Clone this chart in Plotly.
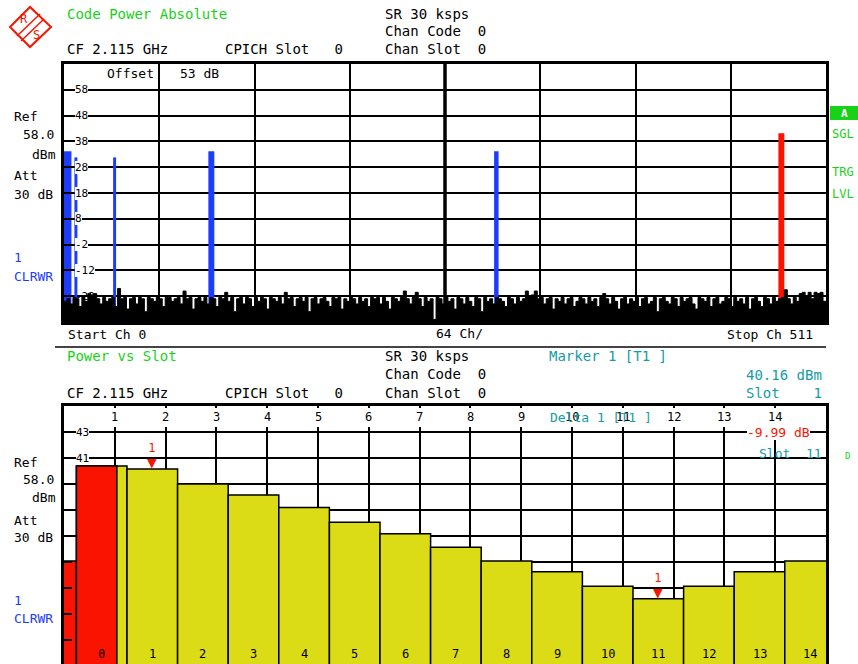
import plotly.graph_objects as go

W, H = 858, 664
FONT = "DejaVu Sans Mono"
GREEN = "#18d218"
TEAL = "#139ca4"
BLUE = "#1e3cff"
RED = "#fa1400"
YELLOW = "#dcdc16"

# ---------------- Code Power Absolute (top) ----------------
CHANNEL_COUNT = 512
CHANNELS_PER_DIV = 64
NOISE_STEP = 2
NOISE_DB = [
    -24, -23, -25, -22.5, -23, -26, -22, -24, -21, -21.5, -21, -23, -25, -22.5, -24, -23,
    -22.5, -26, -19, -23, -22.5, -27, -23, -22.5, -25, -22.5, -23, -28, -22.5, -23, -24, -22.5,
    -23, -26, -22.5, -22.5, -24, -23, -22.5, -25, -20, -23, -22.5, -27, -23, -22.5, -24, -22.5,
    -25, -22.5, -23, -26, -22.5, -23, -20.5, -24, -22.5, -28, -23, -22.5, -25, -22.5, -23, -26,
    -22.5, -24, -22.5, -23, -27, -22.5, -23, -24, -22.5, -25, -20.5, -23, -22.5, -26, -23, -22.5,
    -24, -22.5, -28, -23, -22.5, -25, -23, -22.5, -24, -26, -22.5, -23, -22.5, -27, -23, -24,
    -22.5, -23, -25, -22.5, -24, -23, -26, -22.5, -23, -22.5, -25, -22.5, -24, -27, -22.5, -23,
    -24, -22.5, -20, -23, -25, -22.5, -20.5, -23, -26, -22.5, -24, -23, -31, -22.5, -23, -25,
    -22.5, -24, -23, -27, -22.5, -23, -25, -22.5, -24, -26, -22.5, -23, -28, -22.5, -24, -23,
    -25, -22.5, -23, -24, -26, -22.5, -23, -25, -22.5, -24, -23, -20, -22, -21.5, -20, -23,
    -22.5, -25, -23, -22.5, -27, -23, -24, -22.5, -25, -23, -22.5, -26, -24, -22.5, -23, -25,
    -22.5, -24, -23, -26, -22.5, -21, -23, -25, -22.5, -24, -27, -23, -22.5, -25, -23, -24,
    -22.5, -26, -23, -22.5, -25, -24, -22.5, -28, -23, -22.5, -24, -25, -22.5, -23, -26, -22.5,
    -24, -23, -22.5, -25, -27, -22.5, -23, -24, -22.5, -26, -23, -22.5, -25, -24, -22.5, -23,
    -26, -22.5, -24, -23, -25, -22.5, -27, -23, -22.5, -24, -26, -22.5, -23, -25, -22.5, -24,
    -23, -22.5, -19.5, -23, -25, -22.5, -24, -21, -20.5, -22, -20.5, -23, -20.5, -21, -20.5, -24,
]
CODE_START = [0, 7, 33, 97, 289]
CODE_WIDTH = [5, 2, 2, 4, 3]
CODE_POWER = [34.2, 31.8, 31.8, 34.2, 34.2]
SEL_CODE_START = [480]
SEL_CODE_WIDTH = [4]
SEL_CODE_POWER = [41.2]
TOP_Y_RANGE = [-32, 68]
TOP_Y_TICKS = [58, 48, 38, 28, 18, 8, -2, -12, -22]

# ---------------- Power vs Slot (bottom) ----------------
SLOTS = list(range(15))
SLOT_POWER = [40.38, 40.16, 39.0, 38.15, 37.2, 36.05, 35.18, 34.13, 33.08,
              32.25, 31.13, 30.17, 31.13, 32.25, 33.08]
RED_SLOTS = [-1, 0]
RED_SLOT_POWER = [33.08, 40.38]
RED_SLOT_WIDTH = [1, 0.8]
MARKER_SLOTS = [1, 11]
MARKER_POWER = [40.16, 30.17]
SLOT_GRID_TICKS = list(range(1, 15))
BOT_Y_LABELS = [43, 41]
BOT_Y_TOP = 45
BOT_Y_DTICK = 2


def px(x):
    return x / W


def py(y):
    return 1 - y / H


fig = go.Figure()

# top: noise floor (filled step) above a baseline
base = TOP_Y_RANGE[0]
fig.add_trace(go.Scatter(x=[0, CHANNEL_COUNT], y=[base, base], mode="lines",
                         line=dict(width=0, color="black"), hoverinfo="skip",
                         xaxis="x", yaxis="y"))
nx = [i * NOISE_STEP for i in range(len(NOISE_DB))] + [CHANNEL_COUNT]
ny = NOISE_DB + [NOISE_DB[-1]]
fig.add_trace(go.Scatter(x=nx, y=ny, mode="lines", line=dict(color="black", width=1, shape="hv"),
                         fill="tonexty", fillcolor="black", hoverinfo="skip",
                         xaxis="x", yaxis="y"))
fig.add_trace(go.Bar(x=CODE_START, y=[p - base for p in CODE_POWER], base=base,
                     width=CODE_WIDTH, offset=0,
                     marker=dict(color=BLUE, line=dict(width=0)), xaxis="x", yaxis="y"))
fig.add_trace(go.Bar(x=SEL_CODE_START, y=[p - base for p in SEL_CODE_POWER], base=base,
                     width=SEL_CODE_WIDTH, offset=0,
                     marker=dict(color=RED, line=dict(width=0)), xaxis="x", yaxis="y"))

# bottom: slot bars
fig.add_trace(go.Bar(x=SLOTS, y=SLOT_POWER, width=1, offset=0,
                     marker=dict(color=YELLOW, line=dict(color="black", width=1.5)),
                     xaxis="x2", yaxis="y2"))
fig.add_trace(go.Bar(x=RED_SLOTS, y=RED_SLOT_POWER, width=RED_SLOT_WIDTH, offset=0,
                     marker=dict(color=RED, line=dict(color="black", width=1.5)),
                     xaxis="x2", yaxis="y2"))

slot_px = 50.6
slot0_px = 76.4
x2_range = [-(slot0_px - 64) / slot_px, (826 - slot0_px) / slot_px]
bot_range = [BOT_Y_TOP - (H - 406) / 13.0, BOT_Y_TOP]

grid = dict(showgrid=True, gridcolor="black", gridwidth=1.7, zeroline=False,
            showticklabels=False, fixedrange=True)

fig.update_layout(
    width=W, height=H, autosize=False,
    margin=dict(l=0, r=0, t=0, b=0),
    paper_bgcolor="white", plot_bgcolor="white",
    showlegend=False, barmode="overlay",
    xaxis=dict(domain=[px(64), px(826)], range=[0, CHANNEL_COUNT], tick0=0,
               dtick=CHANNELS_PER_DIV, ticks="", showline=True, mirror=True,
               linecolor="black", linewidth=3, anchor="y", **grid),
    yaxis=dict(domain=[py(322), py(64)], range=TOP_Y_RANGE, tick0=-22, dtick=10,
               ticks="inside", ticklen=8, tickwidth=2, tickcolor="black",
               showline=True, mirror=True, linecolor="black", linewidth=3,
               anchor="x", **grid),
    xaxis2=dict(domain=[px(64), px(826)], range=x2_range, showgrid=False,
                showticklabels=False, showline=False, zeroline=False,
                anchor="y2", fixedrange=True),
    xaxis3=dict(overlaying="x2", side="top", anchor="y2", range=[0, 15], tick0=0,
                dtick=1, ticks="", showline=True, linecolor="black", linewidth=3,
                mirror=False, **grid),
    yaxis2=dict(domain=[0, py(406)], range=bot_range, tick0=25, dtick=BOT_Y_DTICK,
                ticks="inside", ticklen=8, tickwidth=2, tickcolor="black",
                showline=True, mirror=True, linecolor="black", linewidth=3,
                anchor="x2", **grid),
)

shapes = []
# thick centre line of code domain display (under the traces)
shapes.append(dict(type="line", xref="x", yref="paper", x0=CHANNEL_COUNT / 2,
                   x1=CHANNEL_COUNT / 2, y0=py(322), y1=py(64),
                   line=dict(color="black", width=3.5), layer="below"))
# separator between the two screens
shapes.append(dict(type="line", xref="paper", yref="paper", x0=px(55), x1=px(826),
                   y0=py(347), y1=py(347), line=dict(color="#444444", width=2)))
# mask for label row in the slot display
shapes.append(dict(type="rect", xref="paper", yref="paper", x0=px(66), x1=px(824),
                   y0=py(427), y1=py(408), fillcolor="white", line=dict(width=0),
                   layer="above"))
# green "A" box
shapes.append(dict(type="rect", xref="paper", yref="paper", x0=px(830), x1=px(858),
                   y0=py(120), y1=py(106), fillcolor=GREEN, line=dict(width=0)))


def pth(points):
    return "M " + " L ".join(f"{px(a):.5f},{py(b):.5f}" for a, b in points)


# R&S logo
shapes.append(dict(type="path", xref="paper", yref="paper",
                   path=pth([(10, 27), (30, 7), (51, 27), (30, 47)]) + " Z",
                   line=dict(color=RED, width=2)))
shapes.append(dict(type="path", xref="paper", yref="paper",
                   path=pth([(40, 14), (17, 36)]), line=dict(color=RED, width=1.5)))
shapes.append(dict(type="path", xref="paper", yref="paper",
                   path=pth([(44, 19), (21, 41)]), line=dict(color=RED, width=1.5)))
fig.update_layout(shapes=shapes)

anns = []


def ann(text, x, y, color="black", size=14, xanchor="left", **kw):
    d = dict(text=text, x=px(x), y=py(y), xref="paper", yref="paper",
             xanchor=xanchor, yanchor="middle", showarrow=False,
             borderpad=0, borderwidth=0,
             font=dict(family=FONT, size=size, color=color))
    d.update(kw)
    anns.append(d)


# logo letters
ann("R", 24, 19, RED, 12, "center")
ann("S", 36, 35, RED, 12, "center")

# top header
ann("Code Power Absolute", 67, 14, GREEN)
ann("SR 30 ksps", 385, 14)
ann("Chan Code  0", 385, 31)
ann("CF 2.115 GHz", 67, 49)
ann("CPICH Slot   0", 225, 49)
ann("Chan Slot  0", 385, 49)

# side labels (top screen)
for txt, x, y, c in [("Ref", 14, 117, "black"), ("58.0", 23, 134, "black"),
                     ("dBm", 32, 154, "black"), ("Att", 14, 176, "black"),
                     ("30 dB", 14, 194, "black"), ("1", 14, 258, BLUE),
                     ("CLRWR", 14, 276, BLUE)]:
    ann(txt, x, y, c, 13)
ann("<b>A</b>", 844, 113, "white", 11, "center")
ann("SGL", 832, 134, GREEN, 12)
ann("TRG", 832, 172, GREEN, 12)
ann("LVL", 832, 194, GREEN, 12)

# inside top display
ann("Offset", 107, 73, "black", 13)
ann("53 dB", 180, 73, "black", 13)
for v in TOP_Y_TICKS:
    anns.append(dict(text=str(v), x=px(75), xref="paper", y=v, yref="y",
                     xanchor="left", yanchor="middle", showarrow=False,
                     bgcolor="white" if v > TOP_Y_TICKS[-1] else None,
                     borderpad=0, borderwidth=0,
                     font=dict(family=FONT, size=11, color="black")))

ann("Start Ch 0", 68, 335, "black", 13)
ann(f"{CHANNELS_PER_DIV} Ch/", 436, 333, "black", 13)
ann(f"Stop Ch {CHANNEL_COUNT - 1}", 727, 335, "black", 13)

# bottom header
ann("Power vs Slot", 67, 356, GREEN)
ann("SR 30 ksps", 385, 356)
ann("Marker 1 [T1 ]", 549, 356, TEAL)
ann("Chan Code  0", 385, 374)
ann(f"{MARKER_POWER[0]:.2f} dBm", 822, 375, TEAL, 14, "right")
ann("CF 2.115 GHz", 67, 393)
ann("CPICH Slot   0", 225, 393)
ann("Chan Slot  0", 385, 393)
ann(f"Slot    {MARKER_SLOTS[0]}", 822, 393, TEAL, 14, "right")

# side labels (bottom screen)
for txt, x, y, c in [("Ref", 14, 462, "black"), ("58.0", 23, 479, "black"),
                     ("dBm", 32, 497, "black"), ("Att", 14, 520, "black"),
                     ("30 dB", 14, 537, "black"), ("1", 14, 600, BLUE),
                     ("CLRWR", 14, 618, BLUE)]:
    ann(txt, x, y, c, 13)
ann("D", 845, 456, GREEN, 9)

# slot grid labels (top row, inside frame)
for k in SLOT_GRID_TICKS:
    anns.append(dict(text=str(k), x=k, xref="x3", y=py(417), yref="paper",
                     xanchor="center", yanchor="middle", showarrow=False,
                     borderpad=0, borderwidth=0,
                     font=dict(family=FONT, size=12, color="black")))
# y labels of slot display
for v in BOT_Y_LABELS:
    anns.append(dict(text=str(v), x=px(76), xref="paper", y=v, yref="y2",
                     xanchor="left", yanchor="middle", showarrow=False,
                     bgcolor="white", borderpad=0, borderwidth=0,
                     font=dict(family=FONT, size=11, color="black")))
# slot numbers inside the bars
for k in SLOTS:
    anns.append(dict(text=str(k), x=k + 0.5, xref="x2", y=py(654), yref="paper",
                     xanchor="center", yanchor="middle", showarrow=False,
                     borderpad=0, borderwidth=0,
                     font=dict(family=FONT, size=12, color="black")))
# markers
for s, p in zip(MARKER_SLOTS, MARKER_POWER):
    anns.append(dict(text="1<br><span style='font-size:16px'>▼</span>", x=s + 0.5,
                     xref="x2", y=p, yref="y2", xanchor="center", yanchor="bottom",
                     showarrow=False, borderpad=0, borderwidth=0, yshift=-3,
                     font=dict(family=FONT, size=12, color=RED)))

delta = MARKER_POWER[1] - MARKER_POWER[0]
ann("Delta 1 [T1 ]", 550, 417, TEAL, 13)
anns.append(dict(text=f"{delta:.2f} dB", x=px(810), xref="paper", y=43, yref="y2",
                 xanchor="right", yanchor="middle", showarrow=False, bgcolor="white",
                 borderpad=0, borderwidth=0,
                 font=dict(family=FONT, size=13, color=RED)))
ann(f"Slot  {MARKER_SLOTS[1]}", 822, 454, TEAL, 13, "right")

fig.update_layout(annotations=anns)

fig.write_html(
    "out.html",
    config={"displayModeBar": False},
    post_script="document.body.style.margin='0';document.body.style.overflow='hidden';",
)
